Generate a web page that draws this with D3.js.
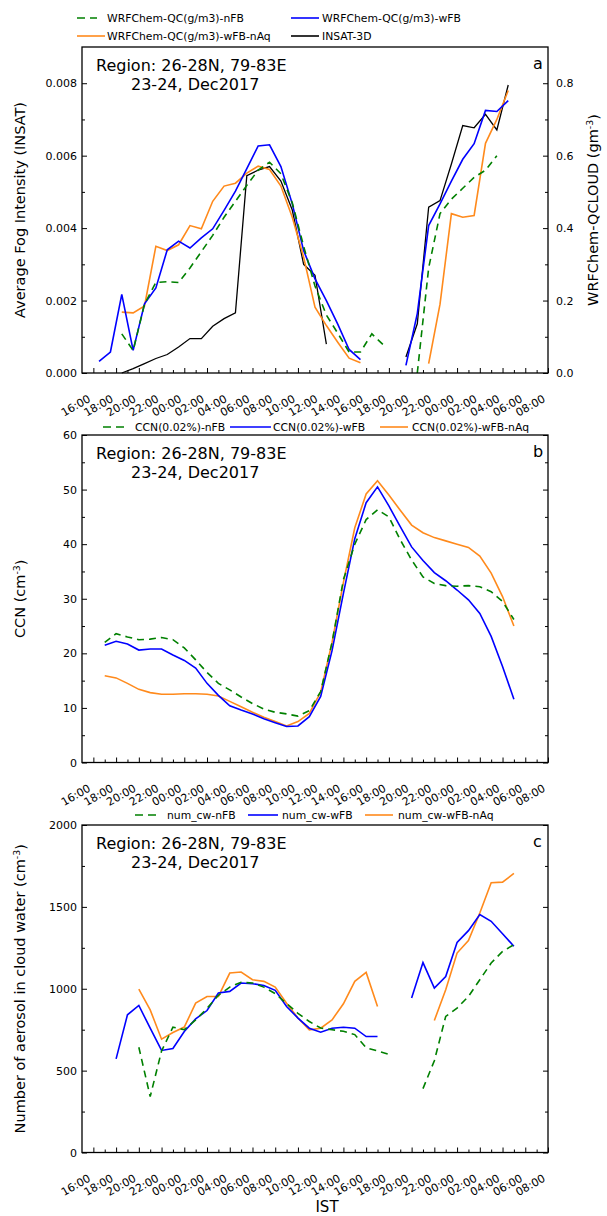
<!DOCTYPE html>
<html>
<head>
<meta charset="utf-8">
<script src="https://cdn.jsdelivr.net/npm/d3@7"></script>
<style>
body { margin: 0; background: #fff; }
text { font-family: "DejaVu Sans", sans-serif; fill: #000; }
</style>
</head>
<body>
<script>
// x axis: hours after 16:00 IST on 23 Dec 2017
var tickHours = [0, 2, 4, 6, 8, 10, 12, 14, 16, 18, 20, 22, 24, 26, 28, 30, 32, 34, 36, 38, 40];
var tickLabels = ["16:00", "18:00", "20:00", "22:00", "00:00", "02:00", "04:00", "06:00", "08:00", "10:00", "12:00",
                  "14:00", "16:00", "18:00", "20:00", "22:00", "00:00", "02:00", "04:00", "06:00", "08:00"];
var minorHours = [1, 3, 5, 7, 9, 11, 13, 15, 17, 19, 21, 23, 25, 27, 29, 31, 33, 35, 37, 39];

// panel a: cloud water (gm-3) and INSAT fog intensity
var hoursA = [0.5, 1.5, 2.5, 3.5, 4.5, 5.5, 6.5, 7.5, 8.5, 9.5, 10.5, 11.5, 12.5, 13.5, 14.5, 15.5, 16.5, 17.5, 18.5,
              19.5, 20.5, 21.5, 22.5, 23.5, 24.5, 25.5, 26.5, 27.5, 28.5, 29.5, 30.5, 31.5, 32.5, 33.5, 34.5, 35.5, 36.5];
var qcNFB = [null, null, 0.108, 0.062, 0.19, 0.25, 0.252, 0.25, 0.29, 0.335, 0.38, 0.43, 0.474, 0.518, 0.56, 0.582, 0.55, 0.47, 0.35,
             0.24, 0.16, 0.11, 0.058, 0.058, 0.108, 0.078, null, null, 0.0, 0.29, 0.44, 0.48, 0.51, 0.54, 0.56, 0.60, null];
var qcWFB = [0.032, 0.058, 0.217, 0.0625, 0.191, 0.235, 0.34, 0.364, 0.345, 0.373, 0.398, 0.449, 0.502, 0.564, 0.627, 0.63, 0.57, 0.467, 0.338,
             0.26, 0.2, 0.135, 0.065, 0.037, null, null, null, 0.021, 0.164, 0.407, 0.467, 0.53, 0.59, 0.633, 0.725, 0.722, 0.752];
var qcWFBnAq = [null, null, 0.168, 0.166, 0.185, 0.35, 0.338, 0.354, 0.407, 0.398, 0.474, 0.516, 0.524, 0.552, 0.571, 0.562, 0.516, 0.43, 0.32,
                0.182, 0.131, 0.085, 0.041, 0.028, null, null, null, null, null, 0.026, 0.19, 0.44, 0.43, 0.435, 0.634, 0.70, 0.78];
var insat = [null, null, 0.0, 0.00012, 0.00026, 0.0004, 0.00051, 0.00072, 0.00095, 0.00095, 0.00129, 0.0015, 0.00166, 0.00545, 0.0056, 0.0057, 0.0053, 0.0045, 0.003,
             0.0027, 0.0008, null, null, null, null, null, null, 0.00044, 0.00136, 0.00458, 0.00476, 0.00577, 0.00683, 0.00677, 0.00714, 0.00671, 0.00795];

// panel b: CCN (cm-3)
var hoursB = [1, 2, 3, 4, 5, 6, 7, 8, 9, 10, 11, 12, 13, 14, 15, 16, 17, 18, 19, 20, 21, 22, 23, 24, 25, 26, 27, 28, 29, 30,
              31, 32, 33, 34, 35, 36, 37];
var ccnNFB = [22.0, 23.6, 23.0, 22.5, 22.6, 22.9, 22.5, 21.0, 18.8, 16.5, 14.5, 13.3, 12.0, 10.8, 9.8, 9.2, 8.9, 8.5, 9.5, 13.0,
              22, 33.5, 40, 44.5, 46.3, 45.0, 40.8, 37.1, 34.0, 32.8, 32.4, 32.3, 32.4, 32.2, 31.3, 29.5, 26.2];
var ccnWFB = [21.5, 22.2, 21.7, 20.6, 20.8, 20.8, 19.7, 18.7, 17.3, 14.5, 12.3, 10.4, 9.6, 8.9, 8.0, 7.3, 6.6, 6.7, 8.4, 12.1,
              20.5, 31, 41, 47.6, 50.5, 47, 43.2, 39.5, 37.0, 34.8, 33.3, 31.6, 29.8, 27.3, 23.1, 17.6, 11.6];
var ccnWFBnAq = [15.9, 15.5, 14.5, 13.4, 12.8, 12.5, 12.5, 12.6, 12.6, 12.5, 12.2, 11.2, 10.2, 9.2, 8.3, 7.5, 6.7, 7.5, 9.0, 12.9,
                 22, 33, 43, 49.2, 51.6, 49.0, 46.2, 43.5, 42.1, 41.2, 40.6, 40.0, 39.4, 37.8, 34.7, 30.4, 25.0];

// panel c: number of aerosol in cloud water (cm-3)
var hoursC = [2, 3, 4, 5, 6, 7, 8, 9, 10, 11, 12, 13, 14, 15, 16, 17, 18, 19, 20, 21, 22, 23, 24, 25, 26, 27, 28, 29, 30,
              31, 32, 33, 34, 35, 36, 37];
var cwNFB = [null, null, 643, 341, 620, 765, 750, 810, 880, 960, 1010, 1040, 1035, 1010, 970, 910, 850, 800, 760, 750, 740, 720, 640, 620, 600,
             null, null, 390, 560, 831, 882, 953, 1055, 1157, 1228, 1269];
var cwWFB = [572, 841, 898, 759, 623, 635, 739, 816, 867, 974, 984, 1035, 1031, 1020, 990, 892, 821, 759, 735, 759, 765, 759, 708, 708, null,
             null, 943, 1160, 1004, 1075, 1283, 1355, 1453, 1412, 1336, 1259];
var cwWFBnAq = [null, null, 998, 871, 692, 733, 766, 912, 953, 953, 1096, 1102, 1055, 1045, 1010, 912, 821, 749, 759, 810, 908, 1045, 1100, 892, null,
                null, null, null, 806, 994, 1218, 1294, 1463, 1647, 1651, 1704];

var green = "#008000", blue = "#0000ff", orange = "#ff8a1c", black = "#000000";

var svg = d3.select("body").append("svg")
            .attr("width", 607)
            .attr("height", 1216);

var x = d3.scaleLinear().domain([-1, 40]).range([82, 548]);

function supText(sel, main, sup, tail) {
    sel.append("tspan").text(main);
    sel.append("tspan").attr("dy", "-0.5em").attr("font-size", "0.65em").text(sup);
    sel.append("tspan").attr("dy", "0.38em").text(tail);
}

// one axis group per tick set so a second call does not wipe the first
function axisGroup(g, tx, ty, axis) {
    var a = g.append("g").attr("transform", "translate(" + tx + "," + ty + ")").call(axis);
    a.selectAll(".domain").remove();
    a.selectAll("text").attr("font-size", 11).attr("font-family", "DejaVu Sans");
    return a;
}

function drawPanel(p) {
    var g = svg.append("g");
    var yL = d3.scaleLinear().domain(p.yDomain).range([p.bottom, p.top]);
    var yR = p.yRight ? d3.scaleLinear().domain(p.yRight.domain).range([p.bottom, p.top]) : yL;
    var x0 = x.range()[0], x1 = x.range()[1];

    p.series.forEach(function(s) {
        var ys = s.right ? yR : yL;
        var line = d3.line()
            .defined(function(d) { return d[1] !== null; })
            .x(function(d) { return x(d[0]); })
            .y(function(d) { return ys(d[1]); });
        g.append("path")
         .datum(d3.zip(s.hours, s.values))
         .attr("d", line)
         .attr("fill", "none")
         .attr("stroke", s.color)
         .attr("stroke-width", s.width || 1.6)
         .attr("stroke-dasharray", s.dash ? "7,5" : null);
    });

    // x axis: inward ticks, rotated labels
    axisGroup(g, 0, p.bottom, d3.axisBottom(x).tickValues(tickHours).tickSize(-5).tickFormat(""));
    axisGroup(g, 0, p.bottom, d3.axisBottom(x).tickValues(minorHours).tickSize(-3).tickFormat(""));
    g.append("g").attr("transform", "translate(0," + p.bottom + ")")
     .selectAll("text").data(tickHours).enter()
     .append("text")
     .attr("transform", function(d) { return "translate(" + (x(d) - 2) + ",28) rotate(-30)"; })
     .attr("text-anchor", "end")
     .attr("font-size", 11)
     .text(function(d, i) { return tickLabels[i]; });

    // left y axis
    axisGroup(g, x0, 0, d3.axisLeft(yL).tickValues(p.yMajor).tickSize(-5).tickPadding(5).tickFormat(p.yFormat));
    axisGroup(g, x0, 0, d3.axisLeft(yL).tickValues(p.yMinor).tickSize(-3).tickFormat(""));

    // right y axis
    if (p.yRight) {
        axisGroup(g, x1, 0, d3.axisRight(yR).tickValues(p.yRight.major).tickSize(-5).tickPadding(8).tickFormat(p.yRight.format));
        axisGroup(g, x1, 0, d3.axisRight(yR).tickValues(p.yRight.minor).tickSize(-3).tickFormat(""));
    } else {
        axisGroup(g, x1, 0, d3.axisRight(yL).tickValues(p.yMajor).tickSize(-5).tickFormat(""));
        axisGroup(g, x1, 0, d3.axisRight(yL).tickValues(p.yMinor).tickSize(-3).tickFormat(""));
    }

    g.selectAll(".tick line").attr("stroke", "#000").attr("stroke-width", 1);

    // frame
    g.append("rect")
     .attr("x", x0).attr("y", p.top)
     .attr("width", x1 - x0).attr("height", p.bottom - p.top)
     .attr("fill", "none").attr("stroke", "#000").attr("stroke-width", 1.3);

    // region note and panel letter
    g.append("text").attr("x", 96).attr("y", p.top + 23.5)
     .attr("font-family", "Liberation Sans").attr("font-size", 16).text("Region: 26-28N, 79-83E");
    g.append("text").attr("x", 131).attr("y", p.top + 42.5)
     .attr("font-family", "Liberation Sans").attr("font-size", 16).text("23-24, Dec2017");
    g.append("text").attr("x", 533).attr("y", p.top + 22)
     .attr("font-family", "Liberation Sans").attr("font-size", 16).text(p.letter);

    // axis titles
    var lt = g.append("text")
              .attr("transform", "translate(25," + ((p.top + p.bottom) / 2) + ") rotate(-90)")
              .attr("text-anchor", "middle").attr("font-size", 14.5);
    if (p.leftSup) supText(lt, p.leftTitle, p.leftSup, ")"); else lt.text(p.leftTitle);
    if (p.rightTitle) {
        var rt = g.append("text")
                  .attr("transform", "translate(598," + ((p.top + p.bottom) / 2) + ") rotate(-90)")
                  .attr("text-anchor", "middle").attr("font-size", 14.5);
        supText(rt, p.rightTitle, "-3", ")");
    }

    // legend
    p.legend.forEach(function(l) {
        g.append("line")
         .attr("x1", l.x1).attr("x2", l.x2).attr("y1", l.y).attr("y2", l.y)
         .attr("stroke", l.color).attr("stroke-width", 1.6)
         .attr("stroke-dasharray", l.dash ? "8,5" : null);
        g.append("text").attr("x", l.tx).attr("y", l.y + 4)
         .attr("font-size", 10.8).text(l.label);
    });
}

drawPanel({
    top: 47, bottom: 373, letter: "a",
    yDomain: [0, 0.009], yMajor: [0, 0.002, 0.004, 0.006, 0.008], yMinor: [0.001, 0.003, 0.005, 0.007],
    yFormat: d3.format(".3f"),
    yRight: { domain: [0, 0.9], major: [0, 0.2, 0.4, 0.6, 0.8], minor: [0.1, 0.3, 0.5, 0.7], format: d3.format(".1f") },
    leftTitle: "Average Fog Intensity (INSAT)",
    rightTitle: "WRFChem-QCLOUD (gm",
    series: [
        { hours: hoursA, values: insat, color: black, width: 1.3 },
        { hours: hoursA, values: qcWFBnAq, color: orange, right: true },
        { hours: hoursA, values: qcWFB, color: blue, right: true },
        { hours: hoursA, values: qcNFB, color: green, dash: true, right: true }
    ],
    legend: [
        { x1: 77, x2: 97, y: 18, tx: 107, color: green, dash: true, label: "WRFChem-QC(g/m3)-nFB" },
        { x1: 291, x2: 319, y: 18, tx: 322, color: blue, label: "WRFChem-QC(g/m3)-wFB" },
        { x1: 77, x2: 105, y: 36, tx: 107, color: orange, label: "WRFChem-QC(g/m3)-wFB-nAq" },
        { x1: 291, x2: 319, y: 36, tx: 322, color: black, label: "INSAT-3D" }
    ]
});

drawPanel({
    top: 435, bottom: 762.5, letter: "b",
    yDomain: [0, 60], yMajor: [0, 10, 20, 30, 40, 50, 60], yMinor: [5, 15, 25, 35, 45, 55],
    yFormat: d3.format("d"),
    leftTitle: "CCN (cm", leftSup: "-3",
    series: [
        { hours: hoursB, values: ccnWFBnAq, color: orange },
        { hours: hoursB, values: ccnWFB, color: blue },
        { hours: hoursB, values: ccnNFB, color: green, dash: true }
    ],
    legend: [
        { x1: 103, x2: 127, y: 427, tx: 135, color: green, dash: true, label: "CCN(0.02%)-nFB" },
        { x1: 230, x2: 271, y: 427, tx: 273, color: blue, label: "CCN(0.02%)-wFB" },
        { x1: 380, x2: 408, y: 427, tx: 412, color: orange, label: "CCN(0.02%)-wFB-nAq" }
    ]
});

drawPanel({
    top: 825, bottom: 1152.5, letter: "c",
    yDomain: [0, 2000], yMajor: [0, 500, 1000, 1500, 2000], yMinor: [250, 750, 1250, 1750],
    yFormat: d3.format("d"),
    leftTitle: "Number of aerosol in cloud water (cm", leftSup: "-3",
    series: [
        { hours: hoursC, values: cwWFBnAq, color: orange },
        { hours: hoursC, values: cwWFB, color: blue },
        { hours: hoursC, values: cwNFB, color: green, dash: true }
    ],
    legend: [
        { x1: 135, x2: 160, y: 815, tx: 167, color: green, dash: true, label: "num_cw-nFB" },
        { x1: 248, x2: 278, y: 815, tx: 282, color: blue, label: "num_cw-wFB" },
        { x1: 365, x2: 393, y: 815, tx: 398, color: orange, label: "num_cw-wFB-nAq" }
    ]
});

svg.append("text")
   .attr("x", 327).attr("y", 1212)
   .attr("text-anchor", "middle")
   .attr("font-size", 15)
   .text("IST");
</script>
</body>
</html>
